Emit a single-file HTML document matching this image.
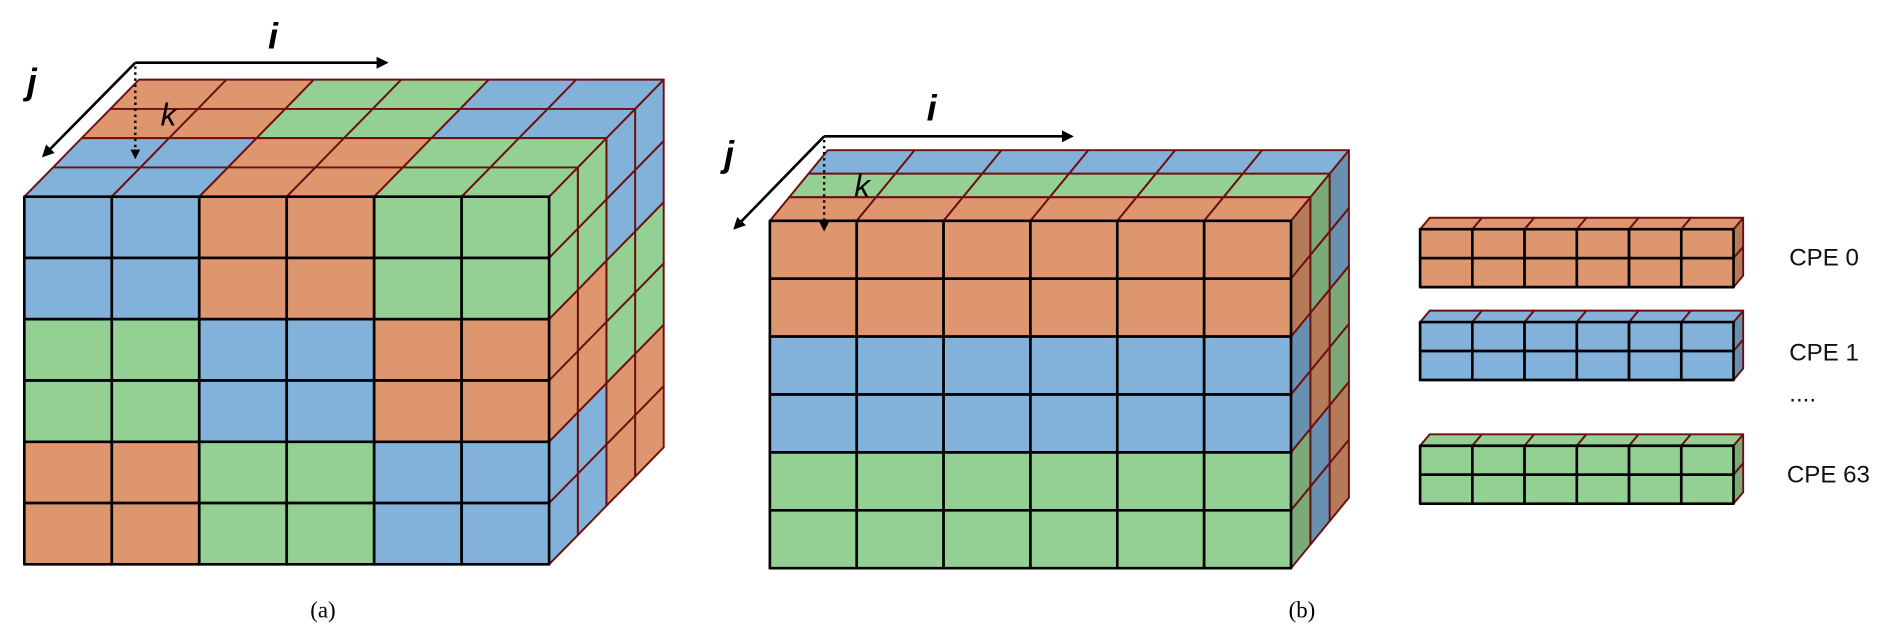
<!DOCTYPE html>
<html><head><meta charset="utf-8"><style>
html,body{margin:0;padding:0;background:#fff;}
svg{display:block}
</style></head><body>
<svg id="s" width="1892" height="643" viewBox="0 0 1568 533" xmlns="http://www.w3.org/2000/svg">
<defs>
<marker id="ah" markerWidth="10" markerHeight="10" refX="8" refY="5" orient="auto" markerUnits="userSpaceOnUse"><path d="M0,0 L10,5 L0,10 z" fill="#000"/></marker>
<marker id="ah2" markerWidth="8" markerHeight="8" refX="6" refY="4" orient="auto" markerUnits="userSpaceOnUse"><path d="M0,0 L8,4 L0,8 z" fill="#000"/></marker>
</defs>
<g id="shapes"></g>
<!-- arrows cube a -->
<line x1="112" y1="52" x2="320" y2="52" stroke="#000" stroke-width="2.2" marker-end="url(#ah)"/>
<line x1="112" y1="52" x2="36" y2="129" stroke="#000" stroke-width="2.2" marker-end="url(#ah)"/>
<line x1="112" y1="55" x2="112" y2="130" stroke="#000" stroke-width="2" stroke-dasharray="2,3" marker-end="url(#ah2)"/>
<text x="222" y="40" font-family="Liberation Sans, sans-serif" font-size="30" font-weight="bold" font-style="italic">i</text>
<text x="22" y="78" font-family="Liberation Sans, sans-serif" font-size="30" font-weight="bold" font-style="italic">j</text>
<text x="133" y="104" font-family="Liberation Sans, sans-serif" font-size="26" font-style="italic">k</text>
<!-- arrows cube b -->
<line x1="683" y1="113" x2="888" y2="113" stroke="#000" stroke-width="2.2" marker-end="url(#ah)"/>
<line x1="683" y1="113" x2="609" y2="189" stroke="#000" stroke-width="2.2" marker-end="url(#ah)"/>
<line x1="683" y1="116" x2="683" y2="190" stroke="#000" stroke-width="2" stroke-dasharray="2,3" marker-end="url(#ah2)"/>
<text x="768" y="100" font-family="Liberation Sans, sans-serif" font-size="30" font-weight="bold" font-style="italic">i</text>
<text x="600" y="138" font-family="Liberation Sans, sans-serif" font-size="30" font-weight="bold" font-style="italic">j</text>
<text x="708" y="163" font-family="Liberation Sans, sans-serif" font-size="26" font-style="italic">k</text>
<!-- labels -->
<g font-family="Liberation Sans, sans-serif" font-size="20" fill="#111">
<text x="1483" y="220">CPE 0</text>
<text x="1483" y="299">CPE 1</text>
<text x="1483" y="333">....</text>
<text x="1481" y="400">CPE 63</text>
</g>
<text x="257" y="512" font-family="Liberation Serif, serif" font-size="19">(a)</text>
<text x="1068" y="512" font-family="Liberation Serif, serif" font-size="19">(b)</text>
</svg>
<script>
(function(){
var O='#DE966E',B='#82B1DA',G='#94D093';
var dark={};dark[O]='#B57A58';dark[B]='#6890B0';dark[G]='#7AAA78';
var g=document.getElementById('shapes');var out='';
function poly(pts,fill,stroke,sw){out+='<polygon points="'+pts.map(function(p){return p[0].toFixed(1)+','+p[1].toFixed(1)}).join(' ')+'" fill="'+fill+'" stroke="'+stroke+'" stroke-width="'+sw+'" stroke-linejoin="round"/>';}
function cube(ox,oy,w,h,dx,dy,nc,nr,nd,front,top,side,shade){
 // side (draw first, back layers first)
 for(var d=nd-1;d>=0;d--)for(var r=0;r<nr;r++){
  var x=ox+nc*w+d*dx,y=oy+r*h+d*dy;
  var c=side(d,r);poly([[x,y],[x+dx,y+dy],[x+dx,y+dy+h],[x,y+h]],shade?dark[c]:c,'#6B0F0F',1.6);
 }
 for(var d=nd-1;d>=0;d--)for(var c=0;c<nc;c++){
  var x=ox+c*w+d*dx,y=oy+d*dy;
  poly([[x,y],[x+w,y],[x+w+dx,y+dy],[x+dx,y+dy]],top(d,c),'#6B0F0F',1.6);
 }
 for(var r=0;r<nr;r++)for(var c=0;c<nc;c++){
  var x=ox+c*w,y=oy+r*h;
  poly([[x,y],[x+w,y],[x+w,y+h],[x,y+h]],front(r,c),'#000',2.2);
 }
}
// cube a
var fa=[[B,B,O,O,G,G],[G,G,B,B,O,O],[O,O,G,G,B,B]];
cube(20,163,72.5,50.8,23.75,-24.25,6,6,4,
 function(r,c){return fa[Math.floor(r/2)][c];},
 function(d,c){return d<2?[B,B,O,O,G,G][c]:[O,O,G,G,B,B][c];},
 function(d,r){return d<2?[G,G,O,O,B,B][r]:[B,B,G,G,O,O][r];},false);
// cube b
cube(638,183,72,48,16,-19.5,6,6,3,
 function(r,c){return [O,O,B,B,G,G][r];},
 function(d,c){return [O,G,B][d];},
 function(d,r){return d==0?[O,O,B,B,G,G][r]:(d==1?[G,G,O,O,B,B][r]:[B,B,G,G,O,O][r]);},true);
// bars
var bars=[[190,O],[267,B],[369.5,G]];
bars.forEach(function(b){
 cube(1177,b[0],43.3,24,8,-9.5,6,2,1,function(){return b[1];},function(){return b[1];},function(){return b[1];},true);
});
g.innerHTML=out;
})();
</script>
</body></html>
